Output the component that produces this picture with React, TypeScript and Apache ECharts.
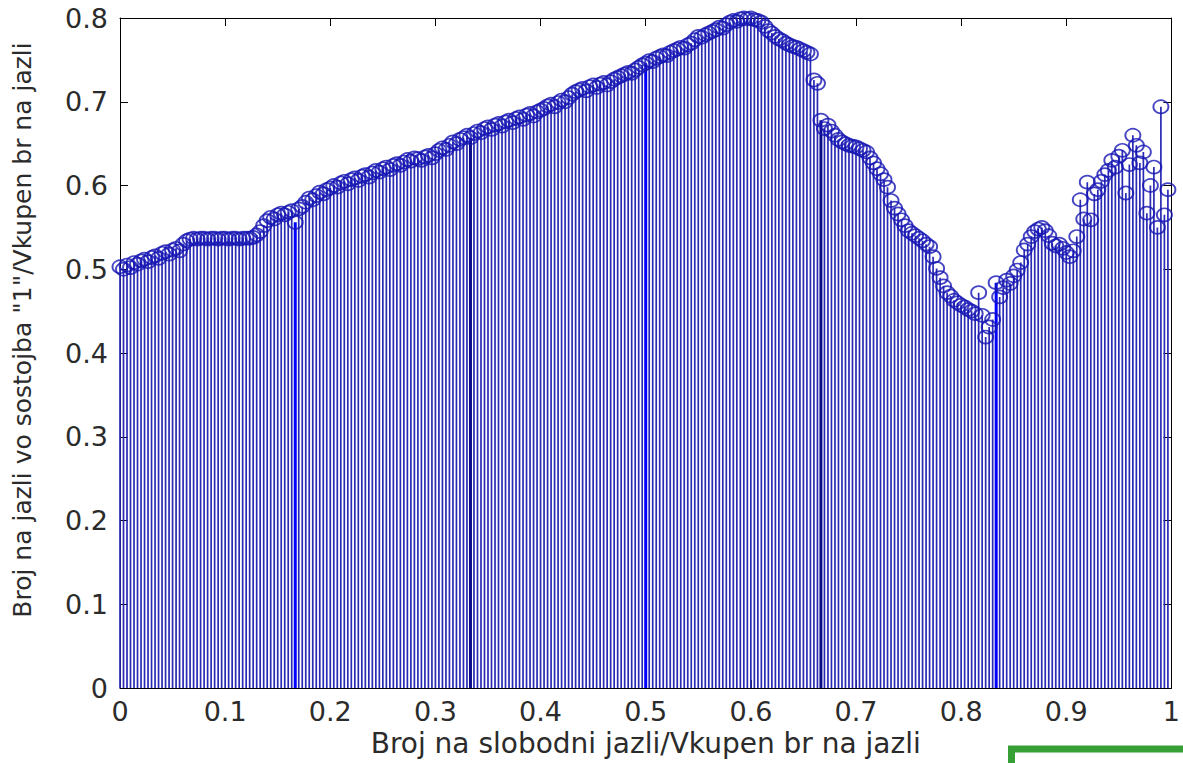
import React, { useEffect, useRef } from "react";
import * as echarts from "echarts";

// Number of nodes: stem k sits at x = k / N_NODES
const N_NODES = 300;

// Values (30 rows of 10 stems)
const values: number[] = [
  0.503, 0.500, 0.505, 0.502, 0.508, 0.506, 0.510, 0.512, 0.509, 0.514,
  0.516, 0.513, 0.519, 0.521, 0.518, 0.523, 0.525, 0.522, 0.530, 0.534,
  0.536, 0.537, 0.536, 0.537, 0.537, 0.536, 0.537, 0.537, 0.536, 0.537,
  0.537, 0.536, 0.537, 0.537, 0.536, 0.537, 0.537, 0.537, 0.538, 0.541,
  0.545, 0.552, 0.558, 0.562, 0.560, 0.565, 0.567, 0.565, 0.568, 0.570,
  0.556, 0.572, 0.575, 0.580, 0.585, 0.583, 0.588, 0.592, 0.590, 0.595,
  0.597, 0.600, 0.598, 0.603, 0.605, 0.602, 0.607, 0.609, 0.606, 0.611,
  0.613, 0.610, 0.615, 0.618, 0.616, 0.620, 0.622, 0.619, 0.624, 0.626,
  0.624, 0.628, 0.631, 0.629, 0.633, 0.632, 0.630, 0.634, 0.636, 0.633,
  0.638, 0.642, 0.645, 0.643, 0.648, 0.652, 0.650, 0.655, 0.657, 0.660,
  0.657, 0.662, 0.665, 0.663, 0.668, 0.670, 0.667, 0.672, 0.674, 0.671,
  0.676, 0.678, 0.675, 0.680, 0.682, 0.679, 0.684, 0.686, 0.683, 0.688,
  0.690, 0.692, 0.695, 0.697, 0.694, 0.699, 0.702, 0.700, 0.705, 0.709,
  0.712, 0.714, 0.716, 0.713, 0.718, 0.720, 0.717, 0.721, 0.723, 0.720,
  0.724, 0.727, 0.729, 0.731, 0.733, 0.735, 0.734, 0.738, 0.741, 0.744,
  0.746, 0.749, 0.748, 0.752, 0.754, 0.756, 0.755, 0.759, 0.761, 0.763,
  0.765, 0.764, 0.768, 0.770, 0.774, 0.778, 0.777, 0.780, 0.782, 0.784,
  0.786, 0.789, 0.788, 0.792, 0.795, 0.797, 0.796, 0.799, 0.800, 0.799,
  0.800, 0.798, 0.797, 0.795, 0.790, 0.785, 0.782, 0.778, 0.775, 0.773,
  0.770, 0.768, 0.766, 0.765, 0.763, 0.761, 0.759, 0.757, 0.726, 0.722,
  0.678, 0.668, 0.672, 0.665, 0.660, 0.655, 0.652, 0.650, 0.648, 0.647,
  0.646, 0.644, 0.642, 0.640, 0.633, 0.627, 0.620, 0.614, 0.607, 0.598,
  0.582, 0.573, 0.566, 0.559, 0.552, 0.546, 0.543, 0.540, 0.537, 0.534,
  0.530, 0.527, 0.515, 0.501, 0.490, 0.480, 0.472, 0.468, 0.463, 0.460,
  0.457, 0.455, 0.452, 0.450, 0.447, 0.472, 0.445, 0.419, 0.431, 0.440,
  0.484, 0.467, 0.478, 0.487, 0.483, 0.492, 0.499, 0.508, 0.523, 0.530,
  0.539, 0.545, 0.548, 0.550, 0.546, 0.540, 0.531, 0.528, 0.530, 0.525,
  0.520, 0.515, 0.522, 0.539, 0.583, 0.560, 0.604, 0.559, 0.590, 0.595,
  0.605, 0.613, 0.618, 0.630, 0.622, 0.635, 0.642, 0.591, 0.625, 0.660,
  0.648, 0.627, 0.640, 0.567, 0.600, 0.622, 0.550, 0.694, 0.565, 0.595,
];

// Stems that appear as heavier lines (1 = bright blue, 2 = dark navy)
const brightStems: number[] = [50, 150, 250];
const darkStems: number[] = [100, 200];

const xTitle = "Broj na slobodni jazli/Vkupen br na jazli";
const yTitle = 'Broj na jazli vo sostojba "1"/Vkupen br na jazli';

const FONT = "DejaVu Sans";
const TEXT_COLOR = "#2b2b2b";

export default function App() {
  const ref = useRef<HTMLDivElement>(null);

  useEffect(() => {
    if (!ref.current) return;
    const chart = echarts.init(ref.current, undefined, { renderer: "svg" });

    const points = values.map((v, k) => [k / N_NODES, v]);
    const stemData = values.map((v, k) => [
      k / N_NODES,
      v,
      brightStems.includes(k) ? 1 : darkStems.includes(k) ? 2 : 0,
    ]);

    const fmt = (v: number) => String(+v.toFixed(1));

    const commonAxis = {
      axisLine: { show: true, onZero: false, lineStyle: { color: "#000", width: 1 } },
      axisTick: { show: true, inside: true, length: 8, lineStyle: { color: "#000", width: 1 } },
      splitLine: { show: false },
    };

    chart.setOption({
      animation: false,
      backgroundColor: "#ffffff",
      grid: { left: 120, right: 4, top: 18, bottom: 75, containLabel: false },
      xAxis: [
        {
          type: "value",
          min: 0,
          max: 1,
          interval: 0.1,
          position: "bottom",
          ...commonAxis,
          axisLabel: {
            show: true,
            margin: 10,
            color: TEXT_COLOR,
            fontFamily: FONT,
            fontSize: 27,
            formatter: fmt,
          },
          name: xTitle,
          nameLocation: "middle",
          nameGap: 40,
          nameTextStyle: { color: TEXT_COLOR, fontFamily: FONT, fontSize: 28 },
        },
        {
          type: "value",
          min: 0,
          max: 1,
          interval: 0.1,
          position: "top",
          ...commonAxis,
          axisLabel: { show: false },
        },
      ],
      yAxis: [
        {
          type: "value",
          min: 0,
          max: 0.8,
          interval: 0.1,
          position: "left",
          ...commonAxis,
          axisLabel: {
            show: true,
            margin: 12,
            color: TEXT_COLOR,
            fontFamily: FONT,
            fontSize: 27,
            formatter: fmt,
          },
        },
        {
          type: "value",
          min: 0,
          max: 0.8,
          interval: 0.1,
          position: "right",
          ...commonAxis,
          axisLabel: { show: false },
        },
      ],
      graphic: [
        {
          type: "text",
          x: 22,
          y: 330,
          rotation: Math.PI / 2,
          style: {
            text: yTitle,
            fill: TEXT_COLOR,
            font: `25px "${FONT}"`,
            align: "center",
            verticalAlign: "middle",
          },
        },
        {
          type: "rect",
          shape: { x: 1011.5, y: 749, width: 300, height: 100 },
          style: { fill: "none", stroke: "#36a036", lineWidth: 7 },
        },
      ],
      series: [
        {
          type: "custom",
          xAxisIndex: 0,
          yAxisIndex: 0,
          data: stemData,
          encode: { x: 0, y: 1 },
          renderItem: (params: any, api: any) => {
            const x = api.value(0);
            const y = api.value(1);
            const kind = api.value(2);
            const top = api.coord([x, y]);
            const bot = api.coord([x, 0]);
            const stroke = kind === 1 ? "#0000ff" : kind === 2 ? "#0a0a8a" : "#2a2ab4";
            const lineWidth = kind === 0 ? 1.7 : 3;
            return {
              type: "line",
              shape: { x1: top[0], y1: top[1], x2: bot[0], y2: bot[1] },
              style: { stroke, lineWidth },
            };
          },
          z: 2,
        },
        {
          type: "scatter",
          xAxisIndex: 0,
          yAxisIndex: 0,
          data: points,
          symbol: "circle",
          symbolSize: [15, 13],
          itemStyle: {
            color: "rgba(0,0,0,0)",
            borderColor: "#1616b4",
            borderWidth: 1.8,
          },
          z: 3,
        },
      ],
    });

    return () => chart.dispose();
  }, []);

  return (
    <div
      ref={ref}
      style={{ position: "fixed", left: 0, top: 0, width: 1183, height: 763, background: "#fff" }}
    />
  );
}
